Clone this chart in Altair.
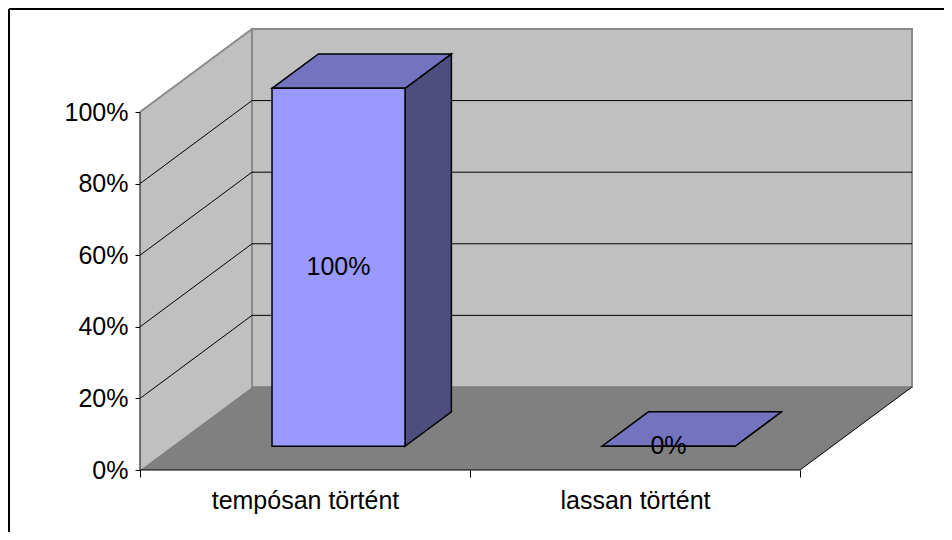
import altair as alt
import pandas as pd

# ---------------- data ----------------
categories = ["tempósan történt", "lassan történt"]
values = [1.0, 0.0]
value_labels = ["100%", "0%"]
y_ticks = [0.0, 0.2, 0.4, 0.6, 0.8, 1.0]

# ---------------- 3D geometry (style constants) ----------------
DX = 0.3394      # depth shift along x (category units)
DY = 0.232       # depth shift along y (value units)
BAR_U0, BAR_U1 = 0.303, 0.706   # bar extent inside a category
D0, D1 = 0.286, 0.70            # bar extent in depth
N = len(categories)
XMAX = N + DX
YMAX = 1 + DY
W, H = 772, 441
CAT_PX = W / XMAX

FONT = "Liberation Sans"
FS = 25

WALL = "#C0C0C0"
FLOOR = "#808080"
WALL_EDGE = "#8A8A8A"
FRONT = "#9999FF"
TOP = "#7373BF"
SIDE = "#4D4D80"


def P(u, v, d):
    return (u + d * DX, v + d * DY)


def poly_rows(pid, pts, fill):
    eps = 1e-9
    xs = sorted(set(round(p[0], 9) for p in pts))
    edges = list(zip(pts, pts[1:] + pts[:1]))
    rows = []
    for x in xs:
        yv = []
        for (x1, y1), (x2, y2) in edges:
            if abs(x1 - x2) < eps:
                if abs(x - x1) < 1e-7:
                    yv += [y1, y2]
            elif min(x1, x2) - 1e-7 <= x <= max(x1, x2) + 1e-7:
                yv.append(y1 + (y2 - y1) * (x - x1) / (x2 - x1))
        rows.append(dict(pid=pid, x=x, y=min(yv), y2=max(yv), fill=fill))
    return rows


xs_scale = alt.Scale(domain=[0, XMAX], nice=False, zero=False)
ys_scale = alt.Scale(domain=[0, YMAX], nice=False, zero=False)

label_expr = " : ".join(
    f"datum.value == {i} ? '{c}'" for i, c in enumerate(categories)
) + " : ''"
x_axis = alt.Axis(
    values=list(range(N + 1)),
    labelExpr=label_expr,
    labelOffset=CAT_PX / 2,
    tickSize=7, tickColor="black", tickWidth=1,
    labelFontSize=FS, labelFont=FONT, labelColor="black", labelPadding=11,
    labelAngle=0, labelFlush=False, labelOverlap=False, labelAlign="center",
    labelLimit=500,
    domain=False, grid=False, title=None,
)
y_axis = alt.Axis(
    values=y_ticks, format=".0%",
    tickSize=5, tickColor="black", tickWidth=1,
    labelFontSize=FS, labelFont=FONT, labelColor="black", labelPadding=7,
    labelFlush=False, labelOverlap=False, labelLimit=500,
    domain=False, grid=False, title=None,
)


def XE(field="x"):
    return alt.X(f"{field}:Q", scale=xs_scale, axis=x_axis)


def YE(field="y"):
    return alt.Y(f"{field}:Q", scale=ys_scale, axis=y_axis)


def area_layer(polys, **mark_kw):
    rows = []
    for pid, pts, fill in polys:
        rows += poly_rows(pid, pts, fill)
    df = pd.DataFrame(rows)
    return alt.Chart(df).mark_area(**mark_kw).encode(
        x=XE(), y=YE(), y2="y2:Q",
        fill=alt.Fill("fill:N", scale=None, legend=None),
        detail="pid:N",
    )


def rule_layer(segs, color, width):
    rows = [dict(x=a[0], y=a[1], x2=b[0], y2=b[1]) for (a, b) in segs]
    df = pd.DataFrame(rows)
    return alt.Chart(df).mark_rule(color=color, strokeWidth=width).encode(
        x=XE(), y=YE(), x2="x2:Q", y2="y2:Q",
    )


# walls and floor
left_wall = area_layer([("lw", [P(0, 0, 0), P(0, 1, 0), P(0, 1, 1), P(0, 0, 1)], WALL)])
back_wall = area_layer(
    [("bw", [P(0, 0, 1), P(N, 0, 1), P(N, 1, 1), P(0, 1, 1)], WALL)],
    stroke=WALL_EDGE, strokeWidth=2,
)
floor = area_layer([("fl", [P(0, 0, 0), P(0, 0, 1), P(N, 0, 1), P(N, 0, 0)], FLOOR)])

# gridlines
grid_segs = []
for v in y_ticks[1:-1]:
    grid_segs.append((P(0, v, 1), P(N, v, 1)))
    grid_segs.append((P(0, v, 0), P(0, v, 1)))
grid = rule_layer(grid_segs, "black", 1)

wall_top = rule_layer([(P(0, 1, 0), P(0, 1, 1))], WALL_EDGE, 2)
floor_edge = rule_layer([(P(N, 0, 0), P(N, 0, 1))], "black", 1)
axis_lines = rule_layer([(P(0, 0, 0), P(N, 0, 0)), (P(0, 0, 0), P(0, 1, 0))], "black", 1)

# bars
sides, tops, fronts, labels = [], [], [], []
for i, (c, val) in enumerate(zip(categories, values)):
    u0, u1 = i + BAR_U0, i + BAR_U1
    sides.append((f"s{i}", [P(u1, 0, D0), P(u1, 0, D1), P(u1, val, D1), P(u1, val, D0)], SIDE))
    tops.append((f"t{i}", [P(u0, val, D0), P(u1, val, D0), P(u1, val, D1), P(u0, val, D1)], TOP))
    fronts.append((f"f{i}", [P(u0, 0, D0), P(u1, 0, D0), P(u1, val, D0), P(u0, val, D0)], FRONT))
    lx, ly = P((u0 + u1) / 2, val / 2, D0)
    labels.append(dict(x=lx, y=ly, text=value_labels[i]))

bar_kw = dict(stroke="black", strokeWidth=1.5, strokeJoin="miter")
side_layer = area_layer(sides, **bar_kw)
top_layer = area_layer(tops, **bar_kw)
front_layer = area_layer(fronts, **bar_kw)

label_layer = alt.Chart(pd.DataFrame(labels)).mark_text(
    font=FONT, fontSize=FS, color="black", align="center", baseline="middle"
).encode(x=XE(), y=YE(), text="text:N")

# outer frame (top and left edges of the cropped chart frame)
frame_top = alt.Chart(pd.DataFrame({"k": [0]})).mark_rule(color="black", strokeWidth=2).encode(
    x=alt.value(-131), x2=alt.value(812), y=alt.value(-20)
)
frame_left = alt.Chart(pd.DataFrame({"k": [0]})).mark_rule(color="black", strokeWidth=2).encode(
    x=alt.value(-131), y=alt.value(-20), y2=alt.value(505)
)

chart = alt.layer(
    left_wall, back_wall, floor, grid, wall_top, floor_edge, axis_lines,
    side_layer, top_layer, front_layer, label_layer, frame_top, frame_left,
).properties(
    width=W, height=H,
    autosize=alt.AutoSizeParams(type="none"),
    padding={"left": 132, "top": 21, "right": 32, "bottom": 62},
    background="white",
).configure_view(stroke=None)

chart.save("out.html", embed_options={"renderer": "svg", "actions": False})
